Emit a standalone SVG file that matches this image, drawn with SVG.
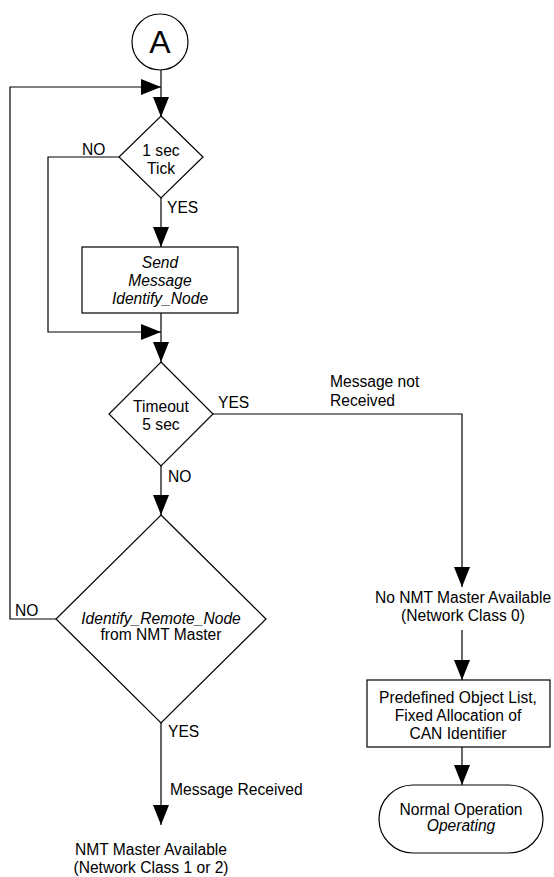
<svg xmlns="http://www.w3.org/2000/svg" width="554" height="877" viewBox="0 0 554 877">
<style>
.s{fill:#fff;stroke:#000;stroke-width:1.2}
.c{fill:none;stroke:#000;stroke-width:1.2}
text{font-family:"Liberation Sans",Arial,sans-serif;font-size:15.6px;fill:#000}
.m{text-anchor:middle}
.i{font-style:italic}
</style>
<defs>
<marker id="ah" markerUnits="userSpaceOnUse" markerWidth="20" markerHeight="16" refX="20" refY="8" orient="auto">
<path d="M0,0 L20,8 L0,16 Z" fill="#000"/>
</marker>
</defs>
<rect width="554" height="877" fill="#fff"/>
<g id="connectors">
<path class="c" d="M161,70 V117" marker-end="url(#ah)"/>
<path class="c" d="M56,619 H10 V87 H161" marker-end="url(#ah)"/>
<path class="c" d="M161,198 V247" marker-end="url(#ah)"/>
<path class="c" d="M119,157 H48 V332 H161" marker-end="url(#ah)"/>
<path class="c" d="M161,313 V362" marker-end="url(#ah)"/>
<path class="c" d="M213,414 H462 V587" marker-end="url(#ah)"/>
<path class="c" d="M161,466 V515" marker-end="url(#ah)"/>
<path class="c" d="M161,723 V825" marker-end="url(#ah)"/>
<path class="c" d="M462,630 V680" marker-end="url(#ah)"/>
<path class="c" d="M462,747 V785" marker-end="url(#ah)"/>
<text x="82" y="155">NO</text>
<text x="167" y="213">YES</text>
<text x="218" y="408">YES</text>
<text x="330" y="387">Message not</text>
<text x="330" y="406">Received</text>
<text x="168" y="482">NO</text>
<text x="15" y="616">NO</text>
<text x="168" y="737">YES</text>
<text x="170" y="795">Message Received</text>
</g>
<g id="start">
<circle class="s" cx="160" cy="42" r="28"/>
<text class="m" x="160" y="53" style="font-size:32px">A</text>
</g>
<g id="tick">
<polygon class="s" points="161,116 203,157 161,198 119,157"/>
<text class="m" x="161" y="156">1 sec</text>
<text class="m" x="161" y="174">Tick</text>
</g>
<g id="send">
<rect class="s" x="82" y="247" width="156" height="66"/>
<text class="m i" x="160" y="268">Send</text>
<text class="m i" x="160" y="286">Message</text>
<text class="m i" x="160" y="304">Identify_Node</text>
</g>
<g id="timeout">
<polygon class="s" points="161,362 213,414 161,466 109,414"/>
<text class="m" x="161" y="412">Timeout</text>
<text class="m" x="161" y="430">5 sec</text>
</g>
<g id="identify">
<polygon class="s" points="161,515 266,619 161,723 56,619"/>
<text class="m i" x="161" y="624">Identify_Remote_Node</text>
<text class="m" x="161" y="640">from NMT Master</text>
</g>
<g id="nmt-available">
<text class="m" x="151" y="855">NMT Master Available</text>
<text class="m" x="151" y="873">(Network Class 1 or 2)</text>
</g>
<g id="no-nmt">
<text class="m" x="463" y="603">No NMT Master Available</text>
<text class="m" x="463" y="621">(Network Class 0)</text>
</g>
<g id="predefined">
<rect class="s" x="367" y="680" width="183" height="67"/>
<text class="m" x="458" y="703">Predefined Object List,</text>
<text class="m" x="458" y="721">Fixed Allocation of</text>
<text class="m" x="458" y="739">CAN Identifier</text>
</g>
<g id="normal">
<rect class="s" x="379" y="785" width="164" height="68" rx="34" ry="34"/>
<text class="m" x="461" y="815">Normal Operation</text>
<text class="m i" x="461" y="831">Operating</text>
</g>
</svg>
